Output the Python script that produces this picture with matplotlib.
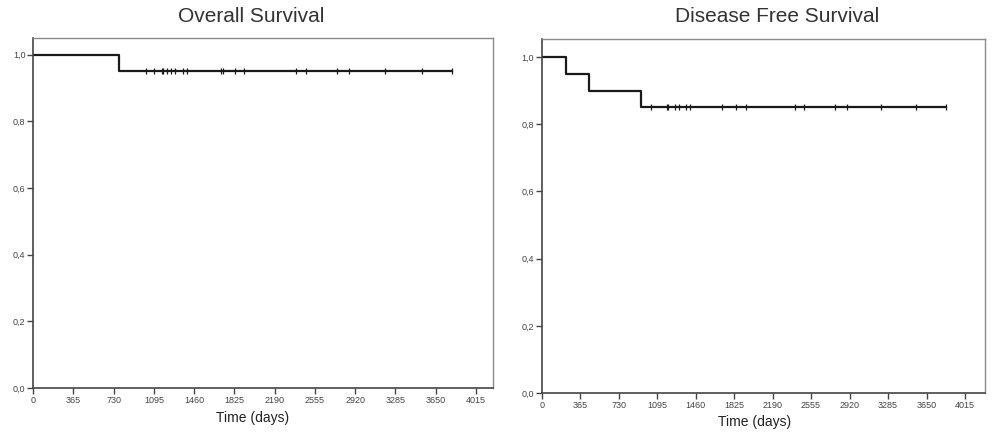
#!/usr/bin/env python3
"""Kaplan-Meier curves: overall survival and disease free survival."""
import matplotlib
matplotlib.use("Agg")
import matplotlib.pyplot as plt
import numpy as np

# Overall survival: event (death) times and censored times, days
os_events = [782]
os_censored = [1021, 1097, 1166, 1181, 1212, 1248, 1287, 1362, 1398, 1701,
               1725, 1831, 1915, 2383, 2474, 2758, 2867, 3190, 3523, 3800]

# Disease free survival
dfs_events = [230, 451, 939]
dfs_censored = [1037, 1186, 1195, 1264, 1305, 1369, 1407, 1707, 1845, 1935,
                2403, 2491, 2782, 2893, 3215, 3552, 3832]

x_ticks = [0, 365, 730, 1095, 1460, 1825, 2190, 2555, 2920, 3285, 3650, 4015]
y_ticks = [0.0, 0.2, 0.4, 0.6, 0.8, 1.0]
y_labels = ["0,0", "0,2", "0,4", "0,6", "0,8", "1,0"]


def kaplan_meier(events, censored):
    times = sorted([(t, 1) for t in events] + [(t, 0) for t in censored])
    n = len(times)
    s = 1.0
    xs, ys = [0.0], [1.0]
    cens_x, cens_y = [], []
    for t, ev in times:
        if ev:
            s *= (n - 1) / n
            xs.append(t)
            ys.append(s)
        else:
            cens_x.append(t)
            cens_y.append(s)
        n -= 1
    xs.append(max(t for t, _ in times))
    ys.append(s)
    return np.array(xs), np.array(ys), cens_x, cens_y


def draw_km(ax, events, censored, xmax, ytop):
    xs, ys, cx, cy = kaplan_meier(events, censored)
    ax.step(xs, ys, where="post", color="#1a1a1a", lw=1.6)
    ax.plot(cx, cy, ls="none", marker="|", ms=5, mew=0.9, color="#1a1a1a")
    ax.set_xlim(0, xmax)
    ax.set_ylim(0, ytop)
    ax.set_xticks(x_ticks)
    ax.set_xticklabels([str(t) for t in x_ticks])
    ax.set_yticks(y_ticks)
    ax.set_yticklabels(y_labels)
    ax.tick_params(labelsize=6.5, labelcolor="#444444", color="#444444",
                   length=4, width=1.0, pad=1.5)
    for name, sp in ax.spines.items():
        if name in ("left", "bottom"):
            sp.set_color("#444444")
            sp.set_linewidth(1.2)
        else:
            sp.set_color("#8a8a8a")
            sp.set_linewidth(1.0)


plt.rcParams["font.family"] = ["Liberation Sans", "DejaVu Sans"]
fig = plt.figure(figsize=(9.92, 4.33), dpi=100)

ax1 = fig.add_axes([0.0333, 0.104, 0.4637, 0.808])
draw_km(ax1, os_events, os_censored, 4169, 1.05)

ax2 = fig.add_axes([0.546, 0.0924, 0.447, 0.8168])
draw_km(ax2, dfs_events, dfs_censored, 4205, 1.053)

fig.text(251 / 992, 1 - 17 / 433, "Overall Survival", ha="center", va="center",
         fontsize=15, color="#333333")
fig.text(777 / 992, 1 - 17 / 433, "Disease Free Survival", ha="center",
         va="center", fontsize=15, color="#333333")
fig.text(253 / 992, 1 - 418 / 433, "Time (days)", ha="center", va="center",
         fontsize=10, color="#222222")
fig.text(755 / 992, 1 - 422 / 433, "Time (days)", ha="center", va="center",
         fontsize=10, color="#222222")

fig.savefig("out.png", dpi=100, facecolor="white")
